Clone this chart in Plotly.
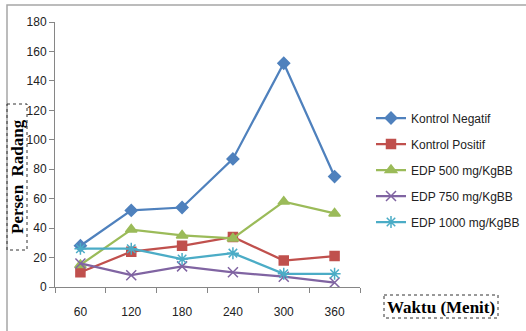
import plotly.graph_objects as go

# Waktu pengamatan (menit) dan persen radang tiap kelompok
waktu = ["60", "120", "180", "240", "300", "360"]
kontrol_negatif = [28, 52, 54, 87, 152, 75]
kontrol_positif = [10, 24, 28, 34, 18, 21]
edp_500 = [15, 39, 35, 33, 58, 50]
edp_750 = [16, 8, 14, 10, 7, 3]
edp_1000 = [26, 26, 19, 23, 9, 9]

y_ticks = list(range(0, 181, 20))

W, H = 526, 331
L, R, T, B = 55, 166, 22, 44
PW, PH = W - L - R, H - T - B


def px(x):
    return (x - L) / PW


def py(y):
    return (H - B - y) / PH


series = [
    ("Kontrol Negatif", kontrol_negatif, "#4F81BD", "diamond", 9),
    ("Kontrol Positif", kontrol_positif, "#C0504D", "square", 9),
    ("EDP 500 mg/KgBB", edp_500, "#9BBB59", "triangle-up", 10),
    ("EDP 750 mg/KgBB", edp_750, "#8064A2", "x-thin-open", 10),
    ("EDP 1000 mg/KgBB", edp_1000, "#4BACC6", "asterisk-open", 10),
]

fig = go.Figure()
for name, vals, color, sym, size in series:
    fig.add_trace(go.Scatter(
        x=waktu, y=vals, name=name, mode="lines+markers",
        legendgroup=name,
        line=dict(color=color, width=2.25),
        marker=dict(symbol=sym, size=size, color=color,
                    line=dict(color=color, width=1.5)),
    ))

axis_col = "#868686"
fig.update_layout(
    width=W, height=H, autosize=False,
    margin=dict(l=L, r=R, t=T, b=B, autoexpand=False),
    paper_bgcolor="white", plot_bgcolor="white",
    font=dict(family="Liberation Sans, Arial, sans-serif", size=12, color="#222"),
    showlegend=True,
    legend=dict(x=px(371), xanchor="left", y=py(170), yanchor="middle",
                tracegroupgap=7, bgcolor="rgba(0,0,0,0)",
                font=dict(size=12, color="#222")),
    xaxis=dict(type="category", range=[-0.5, len(waktu) - 0.5],
               showgrid=False, showline=True,
               linecolor=axis_col, linewidth=1, ticks="outside",
               tickson="boundaries", ticklen=5, tickcolor=axis_col,
               ticklabelstandoff=14, zeroline=False),
    yaxis=dict(range=[0, 180], tickvals=y_ticks, showgrid=False,
               showline=True, linecolor=axis_col, linewidth=1,
               ticks="outside", ticklen=5, tickcolor=axis_col,
               zeroline=False),
)

# Bingkai luar diagram
fig.add_shape(type="rect", xref="paper", yref="paper",
              x0=px(7), x1=px(540), y0=py(5), y1=py(345),
              line=dict(color="#a6a6a6", width=1.5), layer="below")

# Judul sumbu Y dengan kotak bertitik
fig.add_shape(type="rect", xref="paper", yref="paper",
              x0=px(7), x1=px(27), y0=py(104), y1=py(250),
              line=dict(color="#333", width=1, dash="dot"))
fig.add_annotation(xref="paper", yref="paper", x=px(17), y=py(177),
                   xanchor="center", yanchor="middle",
                   text="<b>Persen  Radang</b>", textangle=-90, showarrow=False,
                   font=dict(family="Liberation Serif, Times New Roman, serif",
                             size=17, color="#000"))

# Judul sumbu X dengan kotak bertitik
fig.add_shape(type="rect", xref="paper", yref="paper",
              x0=px(384), x1=px(498), y0=py(295), y1=py(318),
              line=dict(color="#333", width=1, dash="dot"))
fig.add_annotation(xref="paper", yref="paper", x=px(441), y=py(307),
                   xanchor="center", yanchor="middle",
                   text="<b>Waktu (Menit)</b>", showarrow=False,
                   font=dict(family="Liberation Serif, Times New Roman, serif",
                             size=17, color="#000"))

fig.write_html("out.html")
